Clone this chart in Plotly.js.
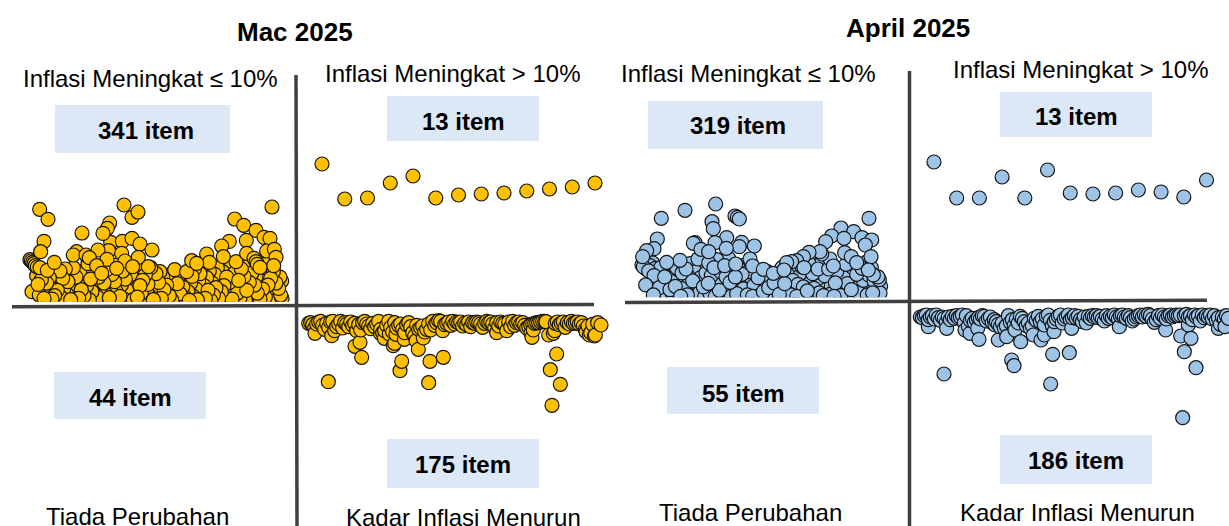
<!DOCTYPE html>
<html><head><meta charset="utf-8">
<script src="https://cdn.plot.ly/plotly-3.0.1.min.js"></script>
<style>html,body{margin:0;padding:0;background:#fff;overflow:hidden}#c{width:1229px;height:526px}</style>
</head><body><div id="c"></div>
<script>
// Values: [position along the axis, distance from the horizontal axis]
const macRiseSmall = [
[66,40],[80,88],[84,62],[88,30],[94,76],[98,48],[102,20],[106,92],[110,66],[114,36],[118,82],[122,54],[126,18],[130,74],[134,28],[138,96],[142,44],[146,64],[150,102],[154,22],[158,80],[162,50],[166,108],[170,34],[174,70],[178,96],[182,16],[186,56],[190,112],[194,38],[198,84],[202,66],[206,20],[210,100],[214,46],[218,74],[222,28],[226,90],[230,58],[234,124],[238,16],[242,78],[246,40],[250,98],[254,62],[258,108],[262,24],[266,84],[270,48],[274,96],[278,18],[282,66],[286,34],[290,106],[294,78],[298,22],[302,52],[306,92],[310,14],[314,70],[318,42],[322,120],[326,88],[330,26],[334,60],[338,102],[342,18],[346,78],[350,46],[354,122],[358,30],[362,92],[366,66],[370,16],[374,50],[378,84],[382,24],[386,106],[390,58],[394,36],[398,74],[402,18],[406,90],[410,44],[414,62],[418,28],[422,112],[426,78],[430,16],[434,52],[438,94],[442,32],[446,68],[450,100],[454,20],[458,84],[462,46],[466,12],[470,60],[474,90],[478,28],[482,72],[486,14],[490,42],[494,106],[498,24],[502,64],[506,88],[510,34],[514,12],[518,54],[522,76],[526,22],[530,100],[534,40],[538,14],[542,66],[546,86],[550,26],[554,110],[558,48],[562,16],[566,72],[570,94],[574,34],[578,120],[582,58],[586,20],[590,82],[594,44],[598,102],[602,14],[606,66],[610,30],[614,92],[618,52],[622,112],[626,20],[630,76],[634,40],[638,100],[642,58],[646,14],[650,84],[654,30],[658,68],[662,118],[666,18],[670,50],[674,96],[678,130],[682,36],[686,74],[690,22],[694,108],[698,56],[702,86],[706,16],[710,44],[714,116],[718,68],[722,28],[726,96],[730,14],[734,60],[738,84],[742,36],[746,110],[750,18],[754,72],[758,48],[762,92],[766,24],[770,124],[774,60],[778,14],[782,80],[786,40],[790,100],[794,26],[798,66],[802,12],[806,50],[810,84],[812,30],[815,72],[816,20],
[60,136],[64,132],[68,128],[72,124],[76,118],[82,114],[90,112],[112,104],
[674,258],[701,239],[738,224],[762,203],[780,200],[709,194],[658,191],[635,177],[770,162],[793,167],[798,143],[791,118],[710,155],[640,145],[590,153],[598,128],[545,133],[560,125],[732,140],[738,130],[742,122],[750,113],
[302,188],[337,191],[366,200],[390,183],[426,165],[385,143],[296,163],[264,165],[335,155],[291,137],[345,132],[200,160],[190,150],[228,150],[238,142],[260,118],[275,95],[320,110],[368,115],[415,115],[133,128],
[89,287],[114,257],[342,300],[366,263],[384,279],[786,294],[299,246],[292,230],[279,215],[216,216],[102,191],[92,160]
];
const macFall = [
[97,245],[398,248],[768,316],[793,253],[763,209],[782,162],[442,172],[402,184],[317,184],[312,212],[197,172],[177,139],[192,127],[367,148],[292,137],[296,130],[325,118],[382,114],[360,122],[265,115],[253,100],[280,102],[300,103],[57,100],[107,107],[758,105],[772,100],[776,92],[708,112],[705,100],[712,90],[602,98],[895,108],[880,105],[870,95],[898,105],[915,75],[905,68],[890,73],[750,65],
[38,70],[44,68],[50,74],[56,84],[62,72],[68,66],[74,64],[80,76],[86,88],[92,70],[98,82],[104,66],[110,64],[116,92],[122,80],[128,72],[134,64],[140,84],[146,68],[152,72],[158,80],[164,66],[170,76],[176,70],[182,92],[188,74],[194,90],[200,68],[206,64],[212,72],[218,78],[224,86],[230,70],[236,80],[242,72],[248,64],[254,88],[260,98],[266,92],[272,76],[278,64],[284,82],[290,96],[296,68],[302,84],[308,76],[314,72],[320,88],[326,98],[332,74],[338,68],[344,80],[350,98],[356,108],[362,76],[368,88],[374,84],[380,78],[386,96],[392,88],[398,72],[404,90],[410,64],[416,76],[422,68],[428,62],[434,64],[440,92],[446,74],[452,70],[458,66],[464,76],[470,64],[476,72],[482,66],[488,68],[494,66],[500,78],[506,70],[512,74],[518,66],[524,80],[530,68],[536,70],[542,66],[548,68],[554,72],[560,82],[566,70],[572,64],[578,68],[584,66],[590,72],[596,84],[602,68],[608,78],[614,66],[620,70],[626,72],[632,92],[638,66],[644,80],[650,64],[656,76],[662,68],[668,66],[674,72],[680,68],[686,76],[692,84],[698,80],[704,74],[710,72],[716,70],[722,68],[728,68],[734,66],[740,64],[746,64],[778,70],[784,66],[790,74],[796,70],[802,66],[808,82],[814,68],[820,72],[826,64],[832,70],[838,68],[844,66],[850,72],[856,68],[862,78],[868,88],[876,78],[884,98]
];
const aprilRiseSmall = [
[36,120],[40,114],[44,128],[48,108],[52,122],[56,102],[60,118],[64,96],[68,126],[72,88],[76,110],[80,72],[84,98],[88,52],[92,112],[96,64],[100,40],[104,84],[108,56],[112,28],[116,100],[120,46],[124,70],[128,32],[132,90],[136,56],[140,112],[144,38],[148,76],[152,26],[156,96],[160,50],[164,66],[168,108],[172,30],[176,84],[180,124],[184,46],[188,72],[192,28],[196,100],[200,58],[204,138],[208,36],[212,82],[216,112],[220,54],[224,26],[228,96],[232,70],[236,126],[240,34],[244,88],[248,50],[252,112],[256,26],[260,136],[264,72],[268,44],[272,100],[276,62],[280,30],[284,118],[288,84],[292,44],[296,140],[300,68],[304,26],[308,104],[312,52],[316,84],[320,34],[324,112],[328,62],[332,28],[336,92],[340,48],[344,120],[348,70],[352,30],[356,100],[360,44],[364,78],[368,26],[372,58],[376,104],[380,36],[384,82],[388,28],[392,60],[396,94],[400,40],[404,72],[408,28],[412,100],[416,52],[420,30],[424,84],[428,44],[432,66],[436,26],[440,90],[444,54],[448,32],[452,76],[456,112],[460,40],[464,64],[468,28],[472,92],[476,50],[480,120],[484,30],[488,74],[492,44],[496,100],[500,26],[504,62],[508,86],[512,34],[516,114],[520,54],[524,28],[528,78],[532,42],[536,126],[540,66],[544,30],[548,94],[552,50],[556,26],[560,76],[564,108],[568,36],[572,60],[576,132],[580,28],[584,88],[588,46],[592,70],[596,108],[600,32],[604,56],[608,84],[612,26],[616,66],[620,100],[624,40],[628,76],[632,28],[636,52],[640,92],[644,36],[648,122],[652,64],[656,26],[660,82],[664,46],[668,112],[672,30],[676,68],[680,92],[684,38],[688,56],[692,28],[696,110],[700,74],[704,42],[708,128],[712,30],[716,90],[720,58],[724,112],[728,36],[732,72],[736,28],[740,50],[744,84],[748,76],[750,36],[752,56],
[47,60],[70,30],[235,65],[94,260],[165,284],[257,303],[246,250],[250,229],[315,267],[322,263],[328,258],[717,260],[633,231],[671,220],[605,207],[642,200],[587,190],[696,202],[725,195],[706,180],[290,202],[255,187],[195,187],[190,185],[335,188],[328,175],[373,177],[82,198],[72,169],[50,163],[38,145],[289,170],[213,167],[236,160],[644,157],[664,145],[723,145],[680,127],[600,138],[575,153],[570,160],[537,158],[520,145],[500,133],[485,130],[470,127],[522,112],[610,117],[150,134],[110,128],[360,138],[317,123],[368,117],[400,107],[430,95],[462,105],[730,90],[715,105]
];
const aprilFall = [
[117,237],[437,267],[833,368],[873,218],[838,170],[443,178],[493,173],[320,195],[327,212],[222,133],[280,135],[347,140],[408,135],[385,120],[418,120],[305,125],[447,110],[195,115],[218,100],[125,100],[70,95],[500,100],[643,95],[782,105],[827,123],[858,130],[850,90],[940,100],[960,95],[180,105],[330,105],[270,90],
[46,66],[52,68],[58,62],[64,60],[70,74],[76,66],[82,62],[88,72],[94,60],[100,68],[106,76],[112,66],[118,70],[124,82],[130,66],[136,74],[142,64],[148,70],[154,62],[160,68],[166,66],[172,60],[178,84],[184,62],[190,94],[196,76],[202,70],[208,82],[214,74],[220,68],[226,72],[232,62],[238,64],[244,78],[250,70],[256,66],[262,84],[268,74],[274,80],[280,88],[286,96],[292,84],[298,100],[304,92],[310,62],[316,82],[322,74],[328,90],[334,72],[340,84],[346,64],[352,70],[358,80],[364,92],[370,84],[376,100],[382,92],[388,70],[394,76],[400,64],[406,80],[412,72],[418,90],[424,64],[430,60],[436,76],[442,92],[448,80],[454,72],[460,64],[466,60],[472,84],[478,72],[484,66],[490,60],[496,74],[502,68],[508,62],[514,70],[520,64],[526,74],[532,80],[538,66],[544,84],[550,64],[556,70],[562,62],[568,66],[574,62],[580,68],[586,64],[592,72],[598,78],[604,62],[610,70],[616,64],[622,68],[628,60],[634,66],[640,72],[646,62],[652,60],[658,66],[664,70],[670,62],[676,68],[682,78],[688,72],[694,66],[700,62],[706,60],[712,66],[718,60],[724,64],[730,58],[736,62],[742,72],[748,82],[754,74],[760,62],[766,70],[772,60],[778,66],[784,72],[790,62],[796,60],[802,66],[808,62],[814,60],[820,62],[826,60],[838,62],[844,58],[850,66],[856,62],[862,74],[868,60],[874,66],[880,62],[886,78],[892,60],[898,68],[904,62],[910,66],[916,60],[922,72],[928,62],[934,76],[940,68],[946,88],[952,66],[958,72],[964,62],[970,70]
];
const macRiseLarge = [141,106,107,122,129,107,110,111,112,114,116,118,122];
const aprilRiseLarge = [139,103,103,124,103,131,108,107,108,111,109,104,121];

const macColor = '#FFC000', aprilColor = '#9DC3E6', edge = '#151515';
const W = 1229, H = 526;
const boxFill = '#DCE8F5', lineColor = '#404040';

const titles = [['Mac 2025',295,32],['April 2025',908,28]];
const quadrantLabels = [
 ['Inflasi Meningkat ≤ 10%',150,78],['Inflasi Meningkat > 10%',452,73],['Tiada Perubahan',137,516],['Kadar Inflasi Menurun',463,517],
 ['Inflasi Meningkat ≤ 10%',748,74],['Inflasi Meningkat > 10%',1080,69],['Tiada Perubahan',750,512],['Kadar Inflasi Menurun',1077,512]
];
const itemBoxes = [
 ['341 item',55,105,230,153,146,130],['13 item',387,96,539,141,463,121],['44 item',54,372,206,419,130,397],['175 item',387,439,539,488,463,464],
 ['319 item',648,101,823,149,738,126],['13 item',1000,92,1152,137,1076,117],['55 item',667,367,819,414,743,393],['186 item',1000,435,1152,484,1076,460]
];
const crossLines = [
 [296,75,297,526],[12,306.8,594,304.4],[909.5,71,909.5,526],[625,302.5,1207,300.2]
];

const layout = {width:W,height:H,margin:{l:0,r:0,t:0,b:0},paper_bgcolor:'#fff',plot_bgcolor:'rgba(0,0,0,0)',showlegend:false,
  shapes:[],annotations:[]};
const px = x=>x/W, py = y=>1-y/H;
const font = 'Liberation Sans, Arial, sans-serif';
const traces = [];
let n = 0;
function panel(points,color,box,xr,yr){
  n++;
  const xa = n===1?'xaxis':'xaxis'+n, ya = n===1?'yaxis':'yaxis'+n, s = n===1?'':String(n);
  const base = {visible:false,fixedrange:true,showgrid:false,zeroline:false};
  layout[xa] = {...base,domain:[px(box[0]),Math.min(1,px(box[1]))],range:xr,anchor:'y'+s};
  layout[ya] = {...base,domain:[py(box[3]),py(box[2])],range:yr,anchor:'x'+s};
  traces.push({type:'scatter',mode:'markers',x:points.map(p=>p[0]),y:points.map(p=>p[1]),xaxis:'x'+s,yaxis:'y'+s,
    cliponaxis:true,hoverinfo:'skip',marker:{size:14,color:color,line:{color:edge,width:1.2}}});
}
const byX = a=>a.slice().sort((p,q)=>p[0]-q[0]);
const ranked = a=>a.map((v,i)=>[i+1,v]);
// stacking order only: the low dense points overlap in no left-to-right order
function mixed(a,sparseFrom){
  const head = a.slice(0,sparseFrom), out = [];
  const m = head.length; let stride = 37;
  while(gcd(stride,m)!==1) stride++;
  for(let i=0;i<m;i++) out.push(head[(i*stride)%m]);
  return out.concat(a.slice(sparseFrom));
}
function gcd(a,b){return b?gcd(b,a%b):a;}
panel(mixed(macRiseSmall,macRiseSmall.findIndex(p=>p[0]===60&&p[1]===136)),macColor,[10,300,190,301.7],[0,870],[10,345]);
panel(ranked(macRiseLarge),macColor,[299.25,617.75,150,305],[0,14],[0,155]);
panel(byX(macFall),macColor,[296,616,300,440],[0,960],[420,0]);
panel(mixed(aprilRiseSmall,aprilRiseSmall.findIndex(p=>p[0]===47&&p[1]===60)),aprilColor,[630,900,190,297.3],[0,810],[23,345]);
panel(ranked(aprilRiseLarge),aprilColor,[911.25,1229,150,301],[0,13.99],[0,151]);
panel(byX(aprilFall),aprilColor,[905,1229,295,445],[0,972],[450,0]);

titles.forEach(t=>layout.annotations.push({text:'<b>'+t[0]+'</b>',x:px(t[1]),y:py(t[2]),xref:'paper',yref:'paper',showarrow:false,xanchor:'center',yanchor:'middle',font:{family:font,size:26,color:'#000'}}));
quadrantLabels.forEach(t=>layout.annotations.push({text:t[0],x:px(t[1]),y:py(t[2]),xref:'paper',yref:'paper',showarrow:false,xanchor:'center',yanchor:'middle',font:{family:font,size:24,color:'#000'}}));
itemBoxes.forEach(b=>{
  layout.shapes.push({type:'rect',xref:'paper',yref:'paper',x0:px(b[1]),x1:px(b[3]),y0:py(b[2]),y1:py(b[4]),fillcolor:boxFill,line:{width:0},layer:'below'});
  layout.annotations.push({text:'<b>'+b[0]+'</b>',x:px(b[5]),y:py(b[6]),xref:'paper',yref:'paper',showarrow:false,xanchor:'center',yanchor:'middle',font:{family:font,size:24,color:'#000'}});
});
crossLines.forEach(l=>layout.shapes.push({type:'line',xref:'paper',yref:'paper',x0:px(l[0]),y0:py(l[1]),x1:px(l[2]),y1:py(l[3]),line:{color:lineColor,width:3.5},layer:'above'}));
Plotly.newPlot('c',traces,layout,{displayModeBar:false,staticPlot:true});
</script></body></html>
